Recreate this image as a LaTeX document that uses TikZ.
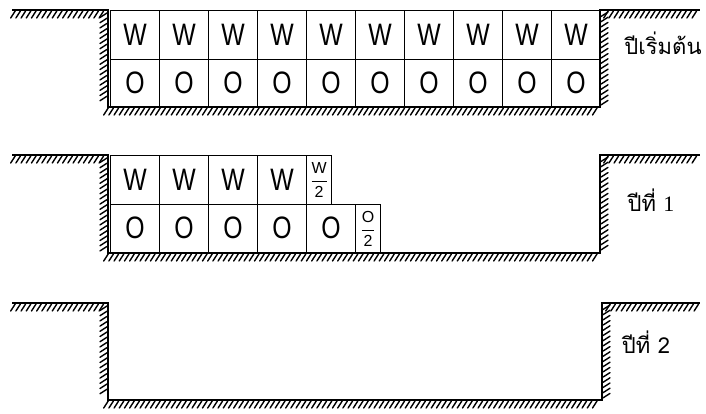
\documentclass[tikz,border=0pt]{standalone}
\usepackage{fontspec}
\setmainfont{Liberation Sans}
\newfontfamily\thaifont[Script=Thai]{Loma}
\newfontfamily\serifnum{Liberation Serif}
\newcommand\hatchH[3]{% y, x1, x2 : strokes below a horizontal line
  \pgfmathtruncatemacro\hn{(#3-#2)/5.2}
  \foreach \i in {1,...,\hn}{\draw[hatchline] ({#2+\i*5.2},#1) -- ++(-4.5,7);}}
\newcommand\hatchVL[3]{% x, y1, y2 : strokes left of a vertical line
  \pgfmathtruncatemacro\hn{(#3-#2)/5.2}
  \foreach \i in {0,...,\hn}{\draw[hatchline] (#1,{#2+\i*5.2}) -- ++(-7,4.5);}}
\newcommand\hatchVR[3]{% x, y1, y2 : strokes right of a vertical line
  \pgfmathtruncatemacro\hn{(#3-#2)/5.2}
  \foreach \i in {0,...,\hn}{\draw[hatchline] ({#1+7},{#2+\i*5.2}) -- ++(-7,4.5);}}
\newcommand\halffrac[1]{$\displaystyle\frac{\hbox{#1}}{\hbox{2}}$}
\begin{document}
\begin{tikzpicture}[x=1pt,y=-1pt,
  ground/.style={line width=1.7pt, line join=miter},
  hatchline/.style={line width=1.4pt, line cap=round},
  cell/.style={draw, line width=1.1pt, minimum width=49pt, minimum height=48.5pt, inner sep=0pt, anchor=north west, font=\fontsize{31}{31}\selectfont},
  halfcell/.style={cell, minimum width=25pt, font=\fontsize{16}{16}\selectfont},
  yearlabel/.style={font=\thaifont\fontsize{22}{22}\selectfont, inner sep=0pt}]
\useasboundingbox (0,0) rectangle (706,413);
% ---------- panel 1 ----------
\foreach \i in {0,...,9}{
  \node[cell] (w1-\i) at ({110+\i*49},10) {\scalebox{0.8}[1]{W}};
  \node[cell] (o1-\i) at ({110+\i*49},58.5) {\scalebox{0.8}[1]{O}};
}
\draw[ground] (12,10) -- (108,10) -- (108,107) -- (600,107) -- (600,10) -- (700,10);
\hatchH{11}{10}{104}
\hatchVL{107}{13}{101}
\hatchH{108}{103}{600}
\hatchVR{601}{12}{101}
\hatchH{11}{603}{700}
\node[yearlabel] (lab1) at (663,43) {ปีเริ่มต้น};
% ---------- panel 2 ----------
\foreach \i in {0,...,3}{
  \node[cell] (w2-\i) at ({110+\i*49},155) {\scalebox{0.8}[1]{W}};
}
\node[halfcell] (w2-h) at (306,155) {\halffrac{W}};
\foreach \i in {0,...,4}{
  \node[cell] (o2-\i) at ({110+\i*49},203.5) {\scalebox{0.8}[1]{O}};
}
\node[halfcell, minimum height=49.5pt] (o2-h) at (355,203.5) {\halffrac{O}};
\draw[ground] (12,155) -- (108,155) -- (108,253) -- (600,253) -- (600,155) -- (700,155);
\hatchH{156}{10}{104}
\hatchVL{107}{158}{247}
\hatchH{254}{103}{600}
\hatchVR{601}{157}{247}
\hatchH{156}{603}{700}
\node[yearlabel] (lab2) at (651,200) {ปีที่ {\serifnum 1}};
% ---------- panel 3 ----------
\draw[ground] (12,303) -- (108,303) -- (108,400) -- (602,400) -- (602,303) -- (700,303);
\hatchH{304}{10}{104}
\hatchVL{107}{306}{394}
\hatchH{401}{103}{602}
\hatchVR{603}{305}{394}
\hatchH{304}{605}{700}
\node[yearlabel] (lab3) at (646,342) {ปีที่ 2};
\end{tikzpicture}
\end{document}
